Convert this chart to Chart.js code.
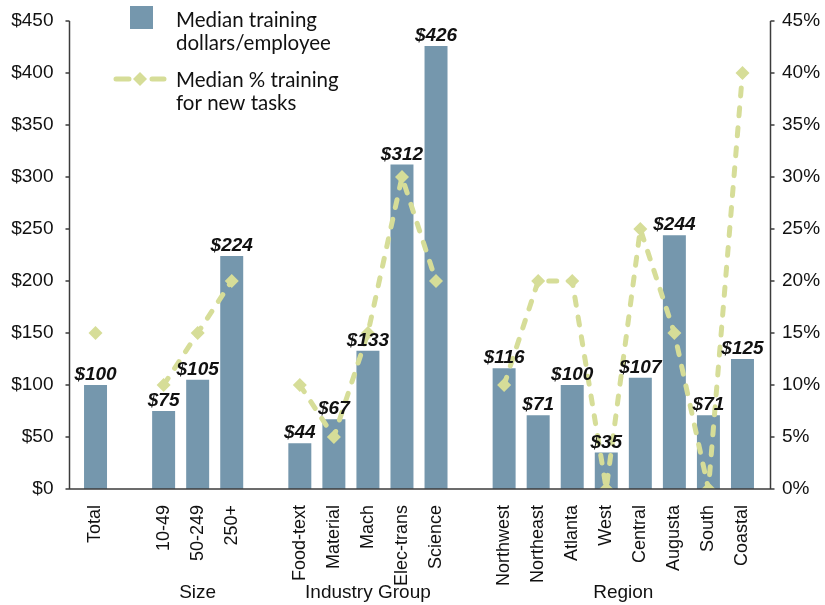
<!DOCTYPE html>
<html>

<head>
    <meta charset="utf-8">
    <title>chart</title>
    <script src="https://cdn.jsdelivr.net/npm/chart.js"></script>
    <style>
        html, body { margin: 0; padding: 0; background: #fff; }
    </style>
</head>

<body>
    <canvas id="myChart" width="825" height="605"></canvas>
    <script>
    // categories, one list per group
    var totalCats = ['Total'];
    var sizeCats = ['10-49', '50-249', '250+'];
    var industryCats = ['Food-text', 'Material', 'Mach', 'Elec-trans', 'Science'];
    var regionCats = ['Northwest', 'Northeast', 'Atlanta', 'West', 'Central', 'Augusta', 'South', 'Coastal'];
    var groupNames = ['', 'Size', 'Industry Group', 'Region'];

    // median training dollars per employee
    var totalDollars = [100];
    var sizeDollars = [75, 105, 224];
    var industryDollars = [44, 67, 133, 312, 426];
    var regionDollars = [116, 71, 100, 35, 107, 244, 71, 125];

    // median % training for new tasks
    var totalPct = [15];
    var sizePct = [10, 15, 20];
    var industryPct = [10, 5, 15, 30, 20];
    var regionPct = [10, 20, 20, 0, 25, 15, 0, 40];

    var BAR = 'rgb(117, 151, 173)';
    var LINE = 'rgb(214, 221, 152)';

    // join groups with an empty slot between them
    var labels = [], dollars = [], pct = [], spans = [];
    [[totalCats, totalDollars, totalPct], [sizeCats, sizeDollars, sizePct],
     [industryCats, industryDollars, industryPct], [regionCats, regionDollars, regionPct]
    ].forEach(function (g, gi) {
        if (gi > 0) { labels.push(''); dollars.push(null); pct.push(null); }
        spans.push([labels.length, labels.length + g[0].length - 1]);
        g[0].forEach(function (c, i) {
            labels.push(c);
            dollars.push(g[1][i]);
            pct.push(g[2][i]);
        });
    });

    var FONT = '"Liberation Sans", Arial, sans-serif';

    var decor = {
        id: 'decor',
        afterDatasetsDraw: function (chart) {
            var ctx = chart.ctx, ca = chart.chartArea;
            var x = chart.scales.x, y = chart.scales.y, y1 = chart.scales.y1;
            var lx = Math.round(ca.left - 10) + 0.5, rx = Math.round(ca.right + 10) + 0.5;
            ctx.save();
            // axis lines and ticks
            ctx.strokeStyle = '#3c3c3c';
            ctx.lineWidth = 1.5;
            ctx.beginPath();
            ctx.moveTo(lx, ca.top);
            ctx.lineTo(lx, ca.bottom);
            ctx.lineTo(rx, ca.bottom);
            ctx.lineTo(rx, ca.top);
            y.ticks.forEach(function (t) {
                var py = y.getPixelForValue(t.value);
                ctx.moveTo(lx - 4, py); ctx.lineTo(lx, py);
            });
            y1.ticks.forEach(function (t) {
                var py = y1.getPixelForValue(t.value);
                ctx.moveTo(rx, py); ctx.lineTo(rx + 4, py);
            });
            ctx.stroke();

            // value labels above bars
            ctx.fillStyle = '#111';
            ctx.font = 'italic bold 19px ' + FONT;
            ctx.textAlign = 'center';
            ctx.textBaseline = 'alphabetic';
            chart.getDatasetMeta(1).data.forEach(function (bar, i) {
                if (dollars[i] == null) return;
                ctx.fillText('$' + dollars[i], bar.x, bar.y - 5);
            });

            // group titles
            ctx.font = '19px ' + FONT;
            ctx.textBaseline = 'middle';
            spans.forEach(function (s, i) {
                if (!groupNames[i]) return;
                var cx = (x.getPixelForValue(s[0]) + x.getPixelForValue(s[1])) / 2;
                ctx.fillText(groupNames[i], cx, 593);
            });
            ctx.restore();
        },
        afterDraw: function (chart) {
            var ctx = chart.ctx;
            ctx.save();
            // legend
            ctx.fillStyle = BAR;
            ctx.fillRect(130, 6, 23, 23);
            ctx.strokeStyle = LINE;
            ctx.lineWidth = 5;
            ctx.lineCap = 'round';
            ctx.beginPath();
            ctx.moveTo(116, 79); ctx.lineTo(129, 79);
            ctx.moveTo(152, 79); ctx.lineTo(164, 79);
            ctx.stroke();
            ctx.fillStyle = LINE;
            ctx.beginPath();
            ctx.moveTo(140, 72); ctx.lineTo(147, 79); ctx.lineTo(140, 86); ctx.lineTo(133, 79);
            ctx.closePath();
            ctx.fill();
            ctx.fillStyle = '#111';
            ctx.font = '20.5px Lato, "Open Sans", sans-serif';
            ctx.textAlign = 'left';
            ctx.textBaseline = 'alphabetic';
            ctx.fillText('Median training', 176, 27);
            ctx.fillText('dollars/employee', 176, 50);
            ctx.fillText('Median % training', 176, 87);
            ctx.fillText('for new tasks', 176, 110);
            ctx.restore();
        }
    };

    var ctx = document.getElementById('myChart').getContext('2d');
    var myChart = new Chart(ctx, {
        type: 'bar',
        data: {
            labels: labels,
            datasets: [{
                type: 'line',
                label: 'Median % training for new tasks',
                data: pct,
                yAxisID: 'y1',
                order: 0,
                borderColor: LINE,
                backgroundColor: LINE,
                borderWidth: 5,
                borderDash: [8, 12],
                borderCapStyle: 'round',
                pointStyle: 'rectRot',
                pointRadius: 7,
                pointBorderWidth: 0,
                spanGaps: false,
                fill: false
            }, {
                label: 'Median training dollars/employee',
                data: dollars,
                yAxisID: 'y',
                order: 1,
                backgroundColor: BAR,
                barPercentage: 0.675,
                categoryPercentage: 1
            }]
        },
        options: {
            responsive: false,
            animation: false,
            layout: { padding: { top: 21, left: 0, right: 0, bottom: 0 } },
            plugins: {
                legend: { display: false },
                tooltip: { enabled: false }
            },
            scales: {
                x: {
                    offset: true,
                    grid: { display: false },
                    border: { display: false },
                    ticks: {
                        autoSkip: false,
                        minRotation: 90,
                        maxRotation: 90,
                        padding: 8,
                        color: '#111',
                        font: { size: 18, family: FONT }
                    },
                    afterFit: function (s) { s.height = 116; }
                },
                y: {
                    position: 'left',
                    min: 0,
                    max: 450,
                    // grid hidden; tickLength only sets the label gap
                    grid: { display: false, tickLength: 23 },
                    border: { display: false },
                    ticks: {
                        stepSize: 50,
                        padding: 2,
                        color: '#111',
                        font: { size: 19, family: FONT },
                        callback: function (v) { return '$' + v; }
                    },
                    afterFit: function (s) { s.width = 78.5; }
                },
                y1: {
                    position: 'right',
                    min: 0,
                    max: 45,
                    grid: { display: false, tickLength: 20.5 },
                    border: { display: false },
                    ticks: {
                        stepSize: 5,
                        padding: 2,
                        color: '#111',
                        font: { size: 19, family: FONT },
                        callback: function (v) { return v + '%'; }
                    },
                    afterFit: function (s) { s.width = 65.5; }
                }
            }
        },
        plugins: [decor]
    });
    </script>
</body>

</html>
